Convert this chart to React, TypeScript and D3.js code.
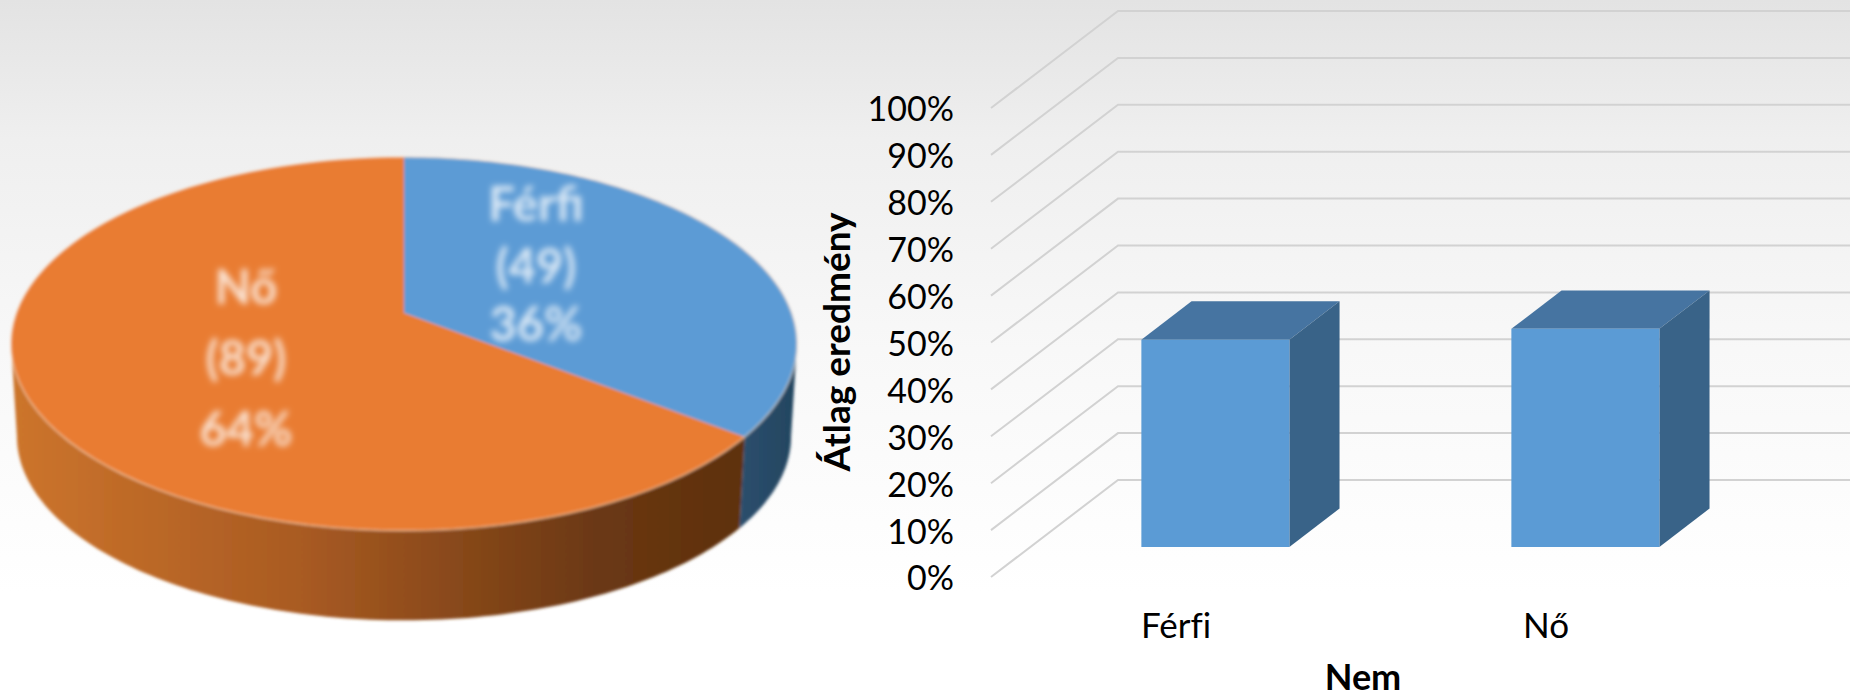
import { useEffect, useRef } from 'react';
import * as d3 from 'd3';

const WIDTH = 1850;
const HEIGHT = 698;

// pie data
const pieNames = ['Férfi', 'Nő'];
const pieCounts = [49, 89];
const piePercents = ['36%', '64%'];

// bar data
const barNames = ['Férfi', 'Nő'];
const barValues = [44.2, 46.5];
const yTicks = [0, 10, 20, 30, 40, 50, 60, 70, 80, 90, 100];

const FONT = 'Lato, Carlito, sans-serif';

export default function App() {
  const svgRef = useRef<SVGSVGElement | null>(null);

  useEffect(() => {
    if (!svgRef.current) return;
    const svg = d3.select(svgRef.current);
    svg.selectAll('*').remove();

    const defs = svg.append('defs');

    const bg = defs.append('linearGradient').attr('id', 'bg').attr('x1', 0).attr('y1', 0).attr('x2', 0).attr('y2', 1);
    bg.append('stop').attr('offset', '0%').attr('stop-color', '#e3e3e3');
    bg.append('stop').attr('offset', '20%').attr('stop-color', '#efefef');
    bg.append('stop').attr('offset', '50%').attr('stop-color', '#f8f8f8');
    bg.append('stop').attr('offset', '85%').attr('stop-color', '#ffffff');

    const sideOrange = defs.append('linearGradient').attr('id', 'sideOrange')
      .attr('gradientUnits', 'userSpaceOnUse').attr('x1', 15).attr('x2', 740).attr('y1', 0).attr('y2', 0);
    sideOrange.append('stop').attr('offset', '0%').attr('stop-color', '#cc742b');
    sideOrange.append('stop').attr('offset', '40%').attr('stop-color', '#a85a22');
    sideOrange.append('stop').attr('offset', '80%').attr('stop-color', '#6b3812');
    sideOrange.append('stop').attr('offset', '100%').attr('stop-color', '#5e300f');

    const sideBlue = defs.append('linearGradient').attr('id', 'sideBlue')
      .attr('gradientUnits', 'userSpaceOnUse').attr('x1', 735).attr('x2', 795).attr('y1', 0).attr('y2', 0);
    sideBlue.append('stop').attr('offset', '0%').attr('stop-color', '#2c4f6e');
    sideBlue.append('stop').attr('offset', '100%').attr('stop-color', '#234560');

    defs.append('filter').attr('id', 'soft').attr('x', '-5%').attr('y', '-5%').attr('width', '110%').attr('height', '110%')
      .append('feGaussianBlur').attr('stdDeviation', 1.6);
    defs.append('filter').attr('id', 'labelBlur').attr('x', '-20%').attr('y', '-20%').attr('width', '140%').attr('height', '140%')
      .append('feGaussianBlur').attr('stdDeviation', 3.4);

    svg.append('rect').attr('width', WIDTH).attr('height', HEIGHT).attr('fill', 'url(#bg)');

    // ---- 3D pie ----
    const pieG = svg.append('g').attr('filter', 'url(#soft)');
    const cx = 404;
    const apexY = 313;
    const persp = 0.165;
    const project = (theta: number, scale = 1, dy = 0): [number, number] => {
      const w = 1 + persp * Math.cos(theta);
      return [cx + (scale * 387.6 * Math.sin(theta)) / w, apexY + dy - (scale * 181.7 * Math.cos(theta)) / w];
    };
    const arcs = d3.pie<number>().sort(null)(pieCounts);
    const line = d3.line();
    const sweep = (a0: number, a1: number, scale = 1, dy = 0) =>
      d3.range(0, 121).map((i) => project(a0 + ((a1 - a0) * i) / 120, scale, dy));

    const depth = 93;
    const lowerScale = 0.985;
    const pieColors = ['#5b9bd5', '#e97c30'];
    const sideFills = ['url(#sideBlue)', 'url(#sideOrange)'];
    // silhouette of the projected rim
    const visibleStart = Math.acos(-persp);
    const visibleEnd = Math.PI * 2 - visibleStart;

    // side wall is only visible on the front half
    arcs.forEach((a, i) => {
      const s = Math.max(a.startAngle, visibleStart);
      const e = Math.min(a.endAngle, visibleEnd);
      const pts = [...sweep(s, e), ...sweep(s, e, lowerScale, depth).reverse()];
      pieG.append('path').attr('d', line(pts) + 'Z').attr('fill', sideFills[i]);
    });

    // top face
    arcs.forEach((a, i) => {
      const pts = [[cx, apexY] as [number, number], ...sweep(a.startAngle, a.endAngle)];
      pieG.append('path')
        .attr('d', line(pts) + 'Z')
        .attr('fill', pieColors[i]);
    });
    // light rim along the edge of the top face
    pieG.append('path')
      .attr('d', line(sweep(0, Math.PI * 2)) + 'Z')
      .attr('fill', 'none')
      .attr('stroke', '#f6d9c2')
      .attr('stroke-opacity', 0.45)
      .attr('stroke-width', 2);

    const labelG = svg.append('g')
      .attr('filter', 'url(#labelBlur)')
      .attr('fill', '#ffffff')
      .attr('fill-opacity', 0.8)
      .attr('font-family', FONT)
      .attr('font-size', 47)
      .attr('font-weight', 700)
      .attr('text-anchor', 'middle');
    const labelPos = [
      { x: 536, ys: [221, 283, 341] },
      { x: 246, ys: [304, 375, 446] },
    ];
    pieNames.forEach((name, i) => {
      [name, `(${pieCounts[i]})`, piePercents[i]].forEach((t, j) => {
        labelG.append('text').attr('x', labelPos[i].x).attr('y', labelPos[i].ys[j]).text(t);
      });
    });

    // ---- 3D bar chart ----
    const x = d3.scaleBand<string>().domain(barNames).range([991, 1731]).paddingInner(0.6).paddingOuter(0.3);
    const y = d3.scaleLinear().domain([0, 100]).range([577, 108]);
    const depthX = 127;
    const depthY = -97;
    const at = (px: number, py: number, t: number): [number, number] => [px + depthX * t, py + depthY * t];

    const grid = svg.append('g');
    yTicks.forEach((v) => {
      grid.append('path')
        .attr('d', line([at(991, y(v), 0), at(991, y(v), 1), [WIDTH, y(v) + depthY]]))
        .attr('fill', 'none')
        .attr('stroke', '#d2d2d2')
        .attr('stroke-width', 2);
    });

    const bars = svg.append('g');
    const t0 = 0.31;
    const t1 = 0.705;
    barNames.forEach((name, i) => {
      const x0 = x(name) as number;
      const x1 = x0 + x.bandwidth();
      const yTop = y(barValues[i]);
      const yBase = y(0);
      bars.append('path')
        .attr('d', line([at(x0, yTop, t0), at(x0, yTop, t1), at(x1, yTop, t1), at(x1, yTop, t0)]) + 'Z')
        .attr('fill', '#4674a1');
      bars.append('path')
        .attr('d', line([at(x1, yTop, t0), at(x1, yTop, t1), at(x1, yBase, t1), at(x1, yBase, t0)]) + 'Z')
        .attr('fill', '#396388');
      bars.append('path')
        .attr('d', line([at(x0, yTop, t0), at(x1, yTop, t0), at(x1, yBase, t0), at(x0, yBase, t0)]) + 'Z')
        .attr('fill', '#5b9bd5');
    });

    // Axes
    const yAxis = svg.append('g')
      .attr('transform', 'translate(991,0)')
      .call(d3.axisLeft(y).tickValues(yTicks).tickFormat((d) => `${d}%`).tickSize(0).tickPadding(37));
    yAxis.select('.domain').remove();
    yAxis.selectAll('text')
      .attr('font-family', FONT)
      .attr('font-size', 34)
      .attr('fill', '#000')
      .attr('dy', '0.38em');

    const xAxis = svg.append('g')
      .attr('transform', 'translate(0,638)')
      .call(d3.axisBottom(x).tickSize(0).tickPadding(0));
    xAxis.select('.domain').remove();
    xAxis.selectAll('text')
      .attr('font-family', FONT)
      .attr('font-size', 35)
      .attr('fill', '#000')
      .attr('y', 0)
      .attr('dy', 0)
      .style('font-variant-ligatures', 'none');

    svg.append('text')
      .attr('x', 1363)
      .attr('y', 690)
      .attr('text-anchor', 'middle')
      .attr('font-family', FONT)
      .attr('font-size', 36)
      .attr('font-weight', 700)
      .attr('fill', '#000')
      .text('Nem');

    svg.append('text')
      .attr('transform', 'translate(850,342) rotate(-90)')
      .attr('text-anchor', 'middle')
      .attr('font-family', FONT)
      .attr('font-size', 37)
      .attr('font-weight', 700)
      .attr('fill', '#000')
      .text('Átlag eredmény');
  }, []);

  return (
    <svg
      ref={svgRef}
      width={WIDTH}
      height={HEIGHT}
      style={{ position: 'absolute', top: 0, left: 0, display: 'block' }}
    />
  );
}
